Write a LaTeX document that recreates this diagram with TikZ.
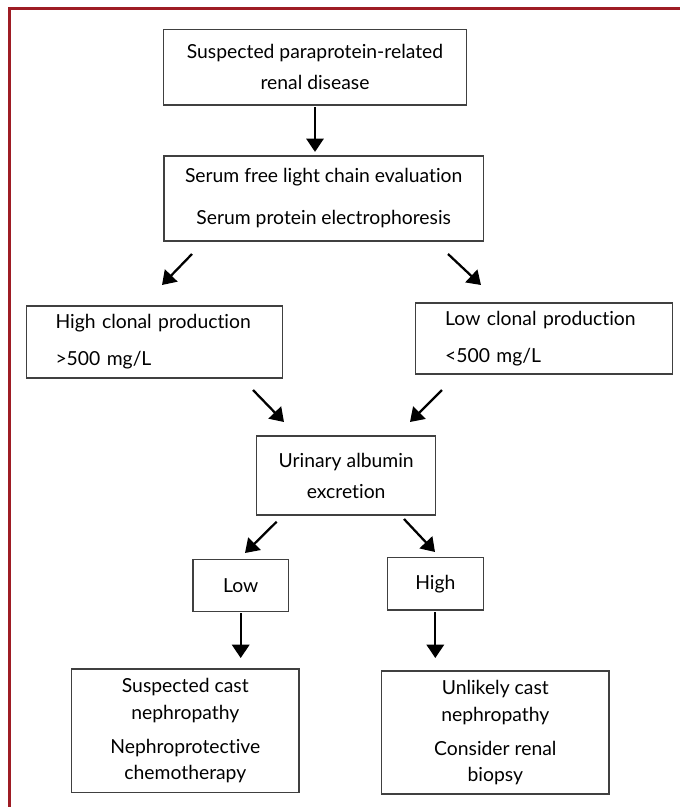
\documentclass[tikz,border=0pt]{standalone}
\usepackage{fontspec}
\setmainfont{Lato}[Ligatures=NoCommon]
\usepackage{tikz}
\usetikzlibrary{arrows.meta}
\definecolor{framered}{RGB}{158,28,36}

\begin{document}
\begin{tikzpicture} [x=0.75pt,y=-0.75pt,every node/.style={draw=black!75,line width=0.9pt,inner sep=2pt,outer sep=0pt,align=center,font=\fontsize{14.5}{17.5}\selectfont},
		arrow/.style={line width=1.7pt,-{Triangle[width=13pt,length=10pt]}},
		leftbox/.style={align=left,text width=148.5pt,inner xsep=22pt}]
			\useasboundingbox (0,0) rectangle (680,807);
			\draw [framered,line width=2pt] (9.7,807) -- (9.7,8.7) -- (680,8.7);
			\node (suspect) [minimum width=227.6pt,minimum height=56.8pt] at (315,67.2) {Suspected paraprotein-related\\[5.75pt]renal disease};
			\node (serum) [minimum width=239.5pt,minimum height=63.75pt] at (323.7,198.4) {Serum free light chain evaluation\\[14pt]Serum protein electrophoresis};
			\node (highprod) [leftbox,minimum height=54pt] at (154.5,342) {High clonal production\\[10.25pt]>500 mg/L};
			\node (lowprod) [leftbox,minimum height=53.25pt] at (544.2,338.5) {Low clonal production\\[10.25pt]<500 mg/L};
			\node (albumin) [minimum width=134.25pt,minimum height=59.25pt] at (346.2,475.5) {Urinary albumin\\[5.75pt]excretion};
			\node (low) [minimum width=71.5pt,minimum height=39.3pt] at (240.7,585.5) {Low};
			\node (high) [minimum width=72pt,minimum height=39.5pt] at (435.3,583.7) {High};
			\node (cast) [minimum width=170.5pt,minimum height=92.8pt] at (185.3,730.9) {Suspected cast\\[2.75pt]nephropathy\\[8pt]Nephroprotective\\[2pt]chemotherapy};
			\node (biopsy) [minimum width=170.5pt,minimum height=92.25pt] at (495.3,732.5) {Unlikely cast\\[2.75pt]nephropathy\\[8pt]Consider renal\\[2pt]biopsy};
			\coordinate (serumL) at (192,254);
			\coordinate (highprodT) at (162,285);
			\coordinate (serumR) at (448,254);
			\coordinate (lowprodT) at (481,285);
			\coordinate (highprodB) at (253,390);
			\coordinate (albuminL) at (284,422);
			\coordinate (lowprodB) at (442,390);
			\coordinate (albuminR) at (410,422);
			\coordinate (albuminBL) at (276.7,521.7);
			\coordinate (lowT) at (245,553);
			\coordinate (albuminBR) at (404,519);
			\coordinate (highT) at (435,552);
			\draw [arrow,shorten <=1.5pt,shorten >=3pt] (suspect.south) -- (suspect.south |- serum.north);
			\draw [arrow] (serumL) -- (highprodT);
			\draw [arrow] (serumR) -- (lowprodT);
			\draw [arrow] (highprodB) -- (albuminL);
			\draw [arrow] (lowprodB) -- (albuminR);
			\draw [arrow] (albuminBL) -- (lowT);
			\draw [arrow] (albuminBR) -- (highT);
			\draw [arrow,shorten <=1.1pt,shorten >=8.25pt] (low.south) -- (low.south |- cast.north);
			\draw [arrow,shorten <=1.5pt,shorten >=9.75pt] (high.south) -- (high.south |- biopsy.north);
		\end{tikzpicture}
\end{document}
